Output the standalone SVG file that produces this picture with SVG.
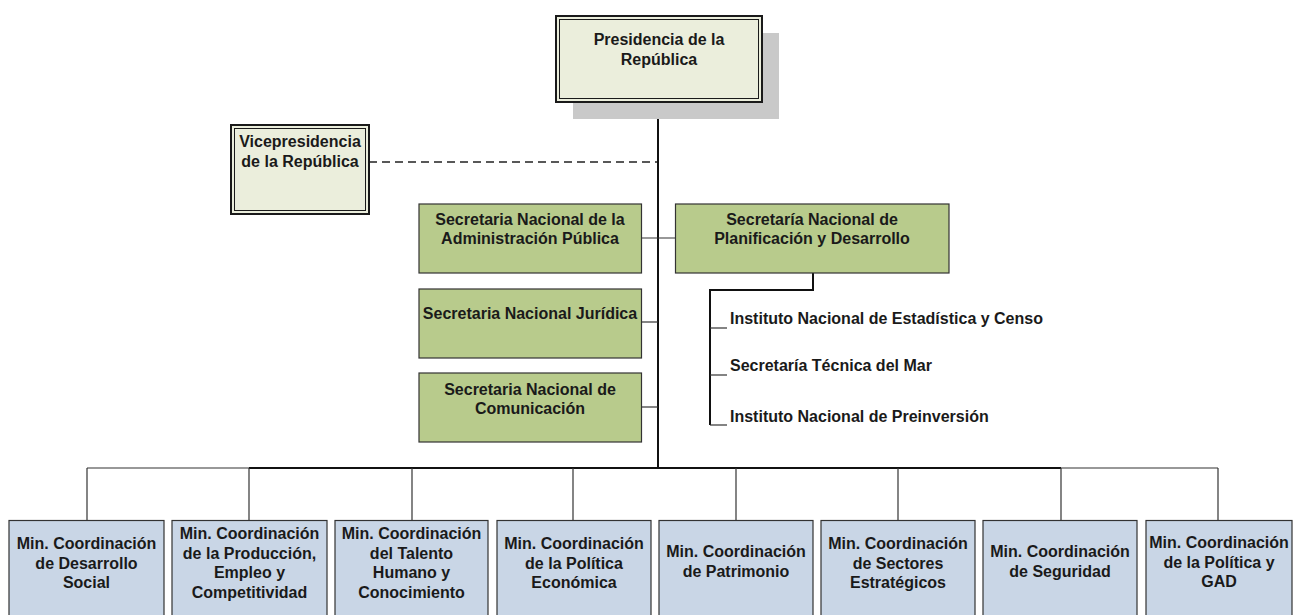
<svg xmlns="http://www.w3.org/2000/svg" width="1299" height="615" viewBox="0 0 1299 615">
<style>
text{font-family:"Liberation Sans",Arial,sans-serif;font-weight:bold;font-size:16px;fill:#1a1a1a}
.c{text-anchor:middle}
.top{fill:#EBEEDC;stroke:#1a1a1a;stroke-width:2}
.inner{fill:none;stroke:#1a1a1a;stroke-width:1}
.sec{fill:#B8CB8C;stroke:#333;stroke-width:1.2}
.min{fill:#C9D6E6;stroke:#333;stroke-width:1.2}
.thick{stroke:#111;stroke-width:2;fill:none}
.thin{stroke:#333;stroke-width:1.2;fill:none}
</style>
<rect width="1299" height="615" fill="#fff"/>
<g id="connectors">
<line class="thick" x1="658" y1="102" x2="658" y2="469"/>
<line x1="369" y1="162" x2="657" y2="162" stroke="#222" stroke-width="1.3" stroke-dasharray="8,5"/>
<line class="thin" x1="641.5" y1="238" x2="675.5" y2="238"/>
<line class="thin" x1="641.5" y1="322" x2="658" y2="322"/>
<line class="thin" x1="641.5" y1="407" x2="658" y2="407"/>
<polyline class="thick" points="813,273 813,290 710,290 710,425"/>
<line class="thin" x1="710" y1="328" x2="727" y2="328"/>
<line class="thin" x1="710" y1="375" x2="727" y2="375"/>
<line class="thin" x1="710" y1="425" x2="727" y2="425"/>
<line class="thin" x1="87" y1="468" x2="1218" y2="468"/>
<line class="thick" x1="249" y1="468" x2="1061" y2="468"/>
<line class="thin" x1="87" y1="468" x2="87" y2="520"/>
<line class="thin" x1="249" y1="468" x2="249" y2="520"/>
<line class="thin" x1="412" y1="468" x2="412" y2="520"/>
<line class="thin" x1="573" y1="468" x2="573" y2="520"/>
<line class="thin" x1="736" y1="468" x2="736" y2="520"/>
<line class="thin" x1="898" y1="468" x2="898" y2="520"/>
<line class="thin" x1="1061" y1="468" x2="1061" y2="520"/>
<line class="thin" x1="1218" y1="468" x2="1218" y2="520"/>
</g>
<g id="presidencia">
<rect x="573" y="33" width="206" height="86" fill="#C9C9C9"/>
<rect class="top" x="556" y="16" width="206" height="86"/>
<rect class="inner" x="559.5" y="19.5" width="199" height="79"/>
<text class="c" x="659" y="45">Presidencia de la</text>
<text class="c" x="659" y="65">República</text>
</g>
<g id="vicepresidencia">
<rect class="top" x="231" y="125" width="138" height="89"/>
<rect class="inner" x="234.5" y="128.5" width="131" height="82"/>
<text class="c" x="300" y="147">Vicepresidencia</text>
<text class="c" x="300" y="167">de la República</text>
</g>
<g id="sec-admin">
<rect class="sec" x="419" y="204" width="222.5" height="69"/>
<text class="c" x="530" y="224.5">Secretaria Nacional de la</text>
<text class="c" x="530" y="243.5">Administración Pública</text>
</g>
<g id="sec-plan">
<rect class="sec" x="675.5" y="204" width="273.5" height="69"/>
<text class="c" x="812" y="224.5">Secretaría Nacional de</text>
<text class="c" x="812" y="243.5">Planificación y Desarrollo</text>
</g>
<g id="sec-juridica">
<rect class="sec" x="419" y="289" width="222.5" height="69"/>
<text class="c" x="530" y="319">Secretaria Nacional Jurídica</text>
</g>
<g id="sec-comunicacion">
<rect class="sec" x="419" y="373" width="222.5" height="69"/>
<text class="c" x="530" y="394.5">Secretaria Nacional de</text>
<text class="c" x="530" y="413.5">Comunicación</text>
</g>
<g id="inec"><text x="730" y="323.5">Instituto Nacional de Estadística y Censo</text></g>
<g id="mar"><text x="730" y="371">Secretaría Técnica del Mar</text></g>
<g id="preinversion"><text x="730" y="422">Instituto Nacional de Preinversión</text></g>
<g id="min1">
<rect class="min" x="9" y="520.5" width="155" height="100"/>
<text class="c" x="86.5" y="549">Min. Coordinación</text>
<text class="c" x="86.5" y="568.5">de Desarrollo</text>
<text class="c" x="86.5" y="588">Social</text>
</g>
<g id="min2">
<rect class="min" x="172" y="520.5" width="155" height="100"/>
<text class="c" x="249.5" y="539">Min. Coordinación</text>
<text class="c" x="249.5" y="558.5">de la Producción,</text>
<text class="c" x="249.5" y="578">Empleo y</text>
<text class="c" x="249.5" y="597.5">Competitividad</text>
</g>
<g id="min3">
<rect class="min" x="335" y="520.5" width="153" height="100"/>
<text class="c" x="411.5" y="539">Min. Coordinación</text>
<text class="c" x="411.5" y="558.5">del Talento</text>
<text class="c" x="411.5" y="578">Humano y</text>
<text class="c" x="411.5" y="597.5">Conocimiento</text>
</g>
<g id="min4">
<rect class="min" x="497" y="520.5" width="154" height="100"/>
<text class="c" x="574" y="549">Min. Coordinación</text>
<text class="c" x="574" y="568.5">de la Política</text>
<text class="c" x="574" y="588">Económica</text>
</g>
<g id="min5">
<rect class="min" x="659" y="520.5" width="154" height="100"/>
<text class="c" x="736" y="557">Min. Coordinación</text>
<text class="c" x="736" y="576.5">de Patrimonio</text>
</g>
<g id="min6">
<rect class="min" x="821" y="520.5" width="154" height="100"/>
<text class="c" x="898" y="549">Min. Coordinación</text>
<text class="c" x="898" y="568.5">de Sectores</text>
<text class="c" x="898" y="588">Estratégicos</text>
</g>
<g id="min7">
<rect class="min" x="983" y="520.5" width="154" height="100"/>
<text class="c" x="1060" y="557">Min. Coordinación</text>
<text class="c" x="1060" y="576.5">de Seguridad</text>
</g>
<g id="min8">
<rect class="min" x="1146" y="520.5" width="146" height="100"/>
<text class="c" x="1219" y="548">Min. Coordinación</text>
<text class="c" x="1219" y="567.5">de la Política y</text>
<text class="c" x="1219" y="587">GAD</text>
</g>
</svg>
